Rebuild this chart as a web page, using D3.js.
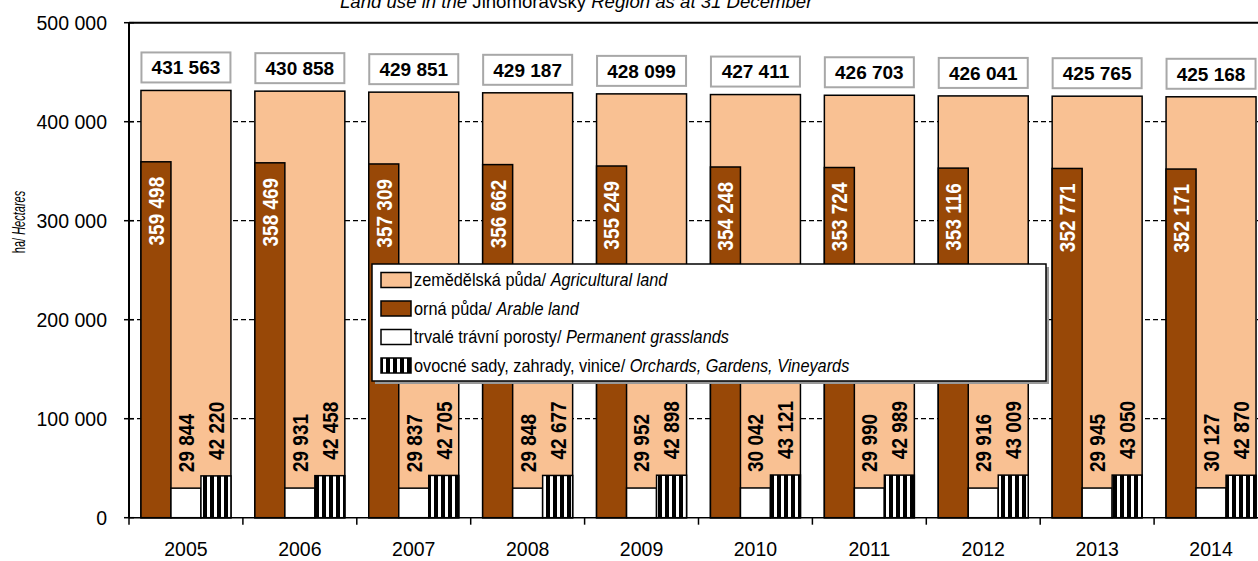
<!DOCTYPE html>
<html>
<head>
<meta charset="utf-8">
<script src="https://cdn.jsdelivr.net/npm/d3@7"></script>
<style>
  body { margin: 0; background: #fff; }
  text { font-family: "Liberation Sans", Arial, sans-serif; }
</style>
</head>
<body>
<div id="chart"></div>
<script>
var years = ['2005', '2006', '2007', '2008', '2009', '2010', '2011', '2012', '2013', '2014'];
var agricultural = [431563, 430858, 429851, 429187, 428099, 427411, 426703, 426041, 425765, 425168];
var arable = [359498, 358469, 357309, 356662, 355249, 354248, 353724, 353116, 352771, 352171];
var grasslands = [29844, 29931, 29837, 29848, 29952, 30042, 29990, 29916, 29945, 30127];
var orchards = [42220, 42458, 42705, 42677, 42898, 43121, 42989, 43009, 43050, 42870];
var yTicks = [0, 100000, 200000, 300000, 400000, 500000];

var chart_width = 1258;
var chart_height = 561;
var plotLeft = 129, plotTop = 22.7, plotBottom = 517.7, plotRight = 1268;

var peach = '#F9C193';
var brown = '#984807';

var svg = d3.select('#chart')
  .append('svg')
  .attr('width', chart_width)
  .attr('height', chart_height);

var defs = svg.append('defs');
var stripes = defs.append('pattern')
  .attr('id', 'stripes')
  .attr('patternUnits', 'userSpaceOnUse')
  .attr('width', 7)
  .attr('height', 10);
stripes.append('rect').attr('width', 7).attr('height', 10).attr('fill', '#fff');
stripes.append('rect').attr('x', 0).attr('width', 4).attr('height', 10).attr('fill', '#000');

var fmt = d3.formatLocale({ decimal: ',', thousands: ' ', grouping: [3], currency: ['', ''] }).format(',');

// Scales
var xOuter = d3.scaleBand()
  .domain(years)
  .range([plotLeft, plotRight]);

var xBar = d3.scaleBand()
  .domain(years)
  .range([plotLeft, plotRight])
  .paddingInner(0.21)
  .paddingOuter(0.105);

var xSub = d3.scaleBand()
  .domain(['arable', 'grass', 'orch'])
  .range([0, xBar.bandwidth()]);

var yScale = d3.scaleLinear()
  .domain([0, 500000])
  .range([plotBottom, plotTop]);

// Gridlines
svg.selectAll('line.grid')
  .data(yTicks.filter(function (d) { return d > 0 && d < 500000; }))
  .enter()
  .append('line')
  .attr('class', 'grid')
  .attr('x1', plotLeft)
  .attr('x2', chart_width)
  .attr('y1', function (d) { return yScale(d); })
  .attr('y2', function (d) { return yScale(d); })
  .attr('stroke', '#000')
  .attr('stroke-width', 1.3)
  .attr('stroke-dasharray', '5,3');

svg.append('line')
  .attr('x1', plotLeft).attr('x2', chart_width)
  .attr('y1', yScale(500000)).attr('y2', yScale(500000))
  .attr('stroke', '#000').attr('stroke-width', 2);

// Agricultural land bars
svg.selectAll('rect.agri')
  .data(agricultural)
  .enter()
  .append('rect')
  .attr('class', 'agri')
  .attr('x', function (d, i) { return xBar(years[i]); })
  .attr('y', function (d) { return yScale(d); })
  .attr('width', xBar.bandwidth())
  .attr('height', function (d) { return yScale(0) - yScale(d); })
  .attr('fill', peach)
  .attr('stroke', '#000')
  .attr('stroke-width', 1.5);

function subBars(data, key, fill) {
  svg.selectAll('rect.' + key)
    .data(data)
    .enter()
    .append('rect')
    .attr('class', key)
    .attr('x', function (d, i) { return xBar(years[i]) + xSub(key); })
    .attr('y', function (d) { return yScale(d); })
    .attr('width', xSub.bandwidth())
    .attr('height', function (d) { return yScale(0) - yScale(d); })
    .attr('fill', fill)
    .attr('stroke', '#000')
    .attr('stroke-width', 1.5);
}
subBars(arable, 'arable', brown);
subBars(grasslands, 'grass', '#fff');
subBars(orchards, 'orch', 'url(#stripes)');

// Labels on sub bars (rotated)
function subLabels(data, key, inside, color) {
  svg.selectAll('text.' + key)
    .data(data)
    .enter()
    .append('text')
    .attr('class', key)
    .attr('transform', function (d, i) {
      var cx = xBar(years[i]) + xSub(key) + xSub.bandwidth() / 2;
      var y = inside ? yScale(d) + 15 : yScale(d) - 16;
      return 'translate(' + cx + ',' + y + ') rotate(-90) scale(1,1.15)';
    })
    .attr('dy', '0.36em')
    .attr('text-anchor', inside ? 'end' : 'start')
    .attr('font-size', 19)
    .attr('font-weight', 'bold')
    .attr('fill', color)
    .text(function (d) { return fmt(d); });
}
subLabels(arable, 'arable', true, '#fff');
subLabels(grasslands, 'grass', false, '#000');
subLabels(orchards, 'orch', false, '#000');

// Total labels in boxes
var totals = svg.selectAll('g.total')
  .data(agricultural)
  .enter()
  .append('g')
  .attr('class', 'total')
  .attr('transform', function (d, i) {
    return 'translate(' + (xBar(years[i]) + xBar.bandwidth() / 2) + ',' + (yScale(d) - 23) + ')';
  });
totals.append('rect')
  .attr('x', -44.5).attr('y', -15)
  .attr('width', 89).attr('height', 30)
  .attr('fill', '#fff')
  .attr('stroke', '#a8a8a8')
  .attr('stroke-width', 2);
totals.append('text')
  .attr('text-anchor', 'middle')
  .attr('dy', '0.36em')
  .attr('font-size', 19)
  .attr('font-weight', 'bold')
  .text(function (d) { return fmt(d); });

// Axes
svg.append('line')
  .attr('x1', plotLeft).attr('x2', chart_width)
  .attr('y1', plotBottom).attr('y2', plotBottom)
  .attr('stroke', '#000').attr('stroke-width', 1.5);
svg.append('line')
  .attr('x1', plotLeft).attr('x2', plotLeft)
  .attr('y1', plotTop).attr('y2', plotBottom)
  .attr('stroke', '#000').attr('stroke-width', 2);

svg.selectAll('line.ytick')
  .data(yTicks)
  .enter()
  .append('line')
  .attr('class', 'ytick')
  .attr('x1', plotLeft - 5).attr('x2', plotLeft + 5)
  .attr('y1', function (d) { return yScale(d); })
  .attr('y2', function (d) { return yScale(d); })
  .attr('stroke', '#000').attr('stroke-width', 1.5);

svg.selectAll('text.ylab')
  .data(yTicks)
  .enter()
  .append('text')
  .attr('class', 'ylab')
  .attr('x', plotLeft - 22)
  .attr('y', function (d) { return yScale(d); })
  .attr('dy', '0.36em')
  .attr('text-anchor', 'end')
  .attr('font-size', 19.5)
  .text(function (d) { return fmt(d); });

svg.selectAll('line.xtick')
  .data(years)
  .enter()
  .append('line')
  .attr('class', 'xtick')
  .attr('x1', function (d) { return xOuter(d); })
  .attr('x2', function (d) { return xOuter(d); })
  .attr('y1', plotBottom).attr('y2', plotBottom + 7)
  .attr('stroke', '#000').attr('stroke-width', 1.5);

svg.selectAll('text.xlab')
  .data(years)
  .enter()
  .append('text')
  .attr('class', 'xlab')
  .attr('x', function (d) { return xOuter(d) + xOuter.bandwidth() / 2; })
  .attr('y', 556)
  .attr('text-anchor', 'middle')
  .attr('font-size', 19.5)
  .text(function (d) { return d; });

// Y axis title
var ytitle = svg.append('text')
  .attr('transform', 'translate(25,222) rotate(-90) scale(1,1.75)')
  .attr('text-anchor', 'middle')
  .attr('font-size', 11);
ytitle.append('tspan').text('ha/ ');
ytitle.append('tspan').attr('font-style', 'italic').text('Hectares');

// Title (cut at top)
var title = svg.append('text')
  .attr('x', 340)
  .attr('y', 8)
  .attr('font-size', 18.6);
title.append('tspan').attr('font-style', 'italic').text('Land use in the ');
title.append('tspan').text('Jihomoravský ');
title.append('tspan').attr('font-style', 'italic').text('Region as at 31 December');

// Legend
var legendItems = [
  { cz: 'zemědělská půda/ ', en: 'Agricultural land', fill: peach },
  { cz: 'orná půda/ ', en: 'Arable land', fill: brown },
  { cz: 'trvalé trávní porosty/ ', en: 'Permanent grasslands', fill: '#fff' },
  { cz: 'ovocné sady, zahrady, vinice/ ', en: 'Orchards, Gardens, Vineyards', fill: 'url(#stripes)' }
];

var legend = svg.append('g').attr('transform', 'translate(372,264)');
legend.append('rect')
  .attr('x', 3).attr('y', 3)
  .attr('width', 674).attr('height', 117)
  .attr('fill', '#999');
legend.append('rect')
  .attr('width', 674).attr('height', 117)
  .attr('fill', '#fff')
  .attr('stroke', '#000')
  .attr('stroke-width', 1.5);

var rows = legend.selectAll('g.row')
  .data(legendItems)
  .enter()
  .append('g')
  .attr('class', 'row')
  .attr('transform', function (d, i) { return 'translate(0,' + (16 + i * 28.5) + ')'; });
rows.append('rect')
  .attr('x', 9).attr('y', -7.5)
  .attr('width', 30).attr('height', 15)
  .attr('fill', function (d) { return d.fill; })
  .attr('stroke', '#000')
  .attr('stroke-width', 1.5);
var rowText = rows.append('text')
  .attr('transform', 'translate(42,0) scale(0.905,1)')
  .attr('dy', '0.36em')
  .attr('font-size', 18);
rowText.append('tspan').text(function (d) { return d.cz; });
rowText.append('tspan').attr('font-style', 'italic').text(function (d) { return d.en; });
</script>
</body>
</html>
